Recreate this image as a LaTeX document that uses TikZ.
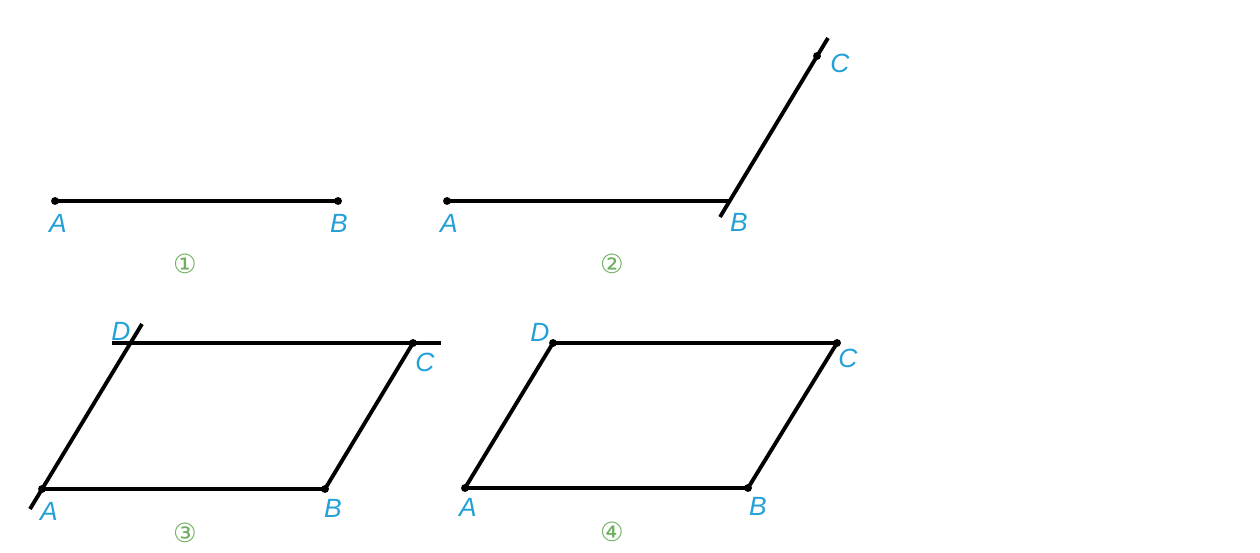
\documentclass[tikz,border=0pt]{standalone}
\usepackage{fontspec}
\setmainfont{Liberation Sans}
\newfontfamily\circfont{DejaVu Sans}
\definecolor{lblblue}{RGB}{35,160,215}
\definecolor{numgreen}{RGB}{110,175,95}
\tikzset{
  seg/.style={line width=2.2pt},
  dot/.style={circle,fill,inner sep=0pt,minimum size=4.5pt},
  lab/.style={text=lblblue,font=\itshape\fontsize{15}{15}\selectfont,inner sep=0pt},
  numlab/.style={text=numgreen,font=\circfont\fontsize{15}{15}\selectfont,inner sep=0pt}
}
\begin{document}
\begin{tikzpicture}[x=0.02cm,y=-0.02cm]
			\useasboundingbox (0,0) rectangle (1260,553);
			% figure 1
			\coordinate (a1) at (55,201);
			\coordinate (b1) at (338,201);
			\draw[seg] (a1) -- (b1);
			\node[dot] (pa1) at (a1) {};
			\node[dot] (pb1) at (b1) {};
			\node[lab] (la1) at (58,223) {A};
			\node[lab] (lb1) at (339,223) {B};
			\node[numlab] (n1) at (185,264) {①};
			% figure 2
			\coordinate (a2) at (447,201);
			\coordinate (b2) at (730,201);
			\coordinate (c2) at (817,56);
			\coordinate (e2) at (720,217);
			\coordinate (f2) at (828,38);
			\draw[seg] (a2) -- (b2);
			\draw[seg] (e2) -- (f2);
			\node[dot] (pa2) at (a2) {};
			\node[dot] (pc2) at (c2) {};
			\node[lab] (la2) at (449,223) {A};
			\node[lab] (lb2) at (739,222) {B};
			\node[lab] (lc2) at (840,63) {C};
			\node[numlab] (n2) at (612,264) {②};
			% figure 3
			\coordinate (a3) at (42,489);
			\coordinate (b3) at (325,489);
			\coordinate (c3) at (413,343);
			\coordinate (d3) at (130,343);
			\coordinate (e3) at (30,509);
			\coordinate (f3) at (142,324);
			\coordinate (g3) at (112,343);
			\coordinate (h3) at (441,343);
			\draw[seg] (e3) -- (f3);
			\draw[seg] (g3) -- (h3);
			\draw[seg] (a3) -- (b3) -- (c3);
			\node[dot] (pa3) at (a3) {};
			\node[dot] (pb3) at (b3) {};
			\node[dot] (pc3) at (c3) {};
			\node[lab] (ld3) at (121,331) {D};
			\node[lab] (lc3) at (425,362) {C};
			\node[lab] (la3) at (49,511) {A};
			\node[lab] (lb3) at (333,508) {B};
			\node[numlab] (n3) at (185,533) {③};
			% figure 4
			\coordinate (a4) at (465,488);
			\coordinate (b4) at (748,488);
			\coordinate (c4) at (837,343);
			\coordinate (d4) at (553,343);
			\draw[seg] (a4) -- (b4) -- (c4) -- (d4) -- cycle;
			\node[dot] (pa4) at (a4) {};
			\node[dot] (pb4) at (b4) {};
			\node[dot] (pc4) at (c4) {};
			\node[dot] (pd4) at (d4) {};
			\node[lab] (ld4) at (540,332) {D};
			\node[lab] (lc4) at (848,358) {C};
			\node[lab] (la4) at (468,507) {A};
			\node[lab] (lb4) at (758,506) {B};
			\node[numlab] (n4) at (612,532) {④};
\end{tikzpicture}
\end{document}
